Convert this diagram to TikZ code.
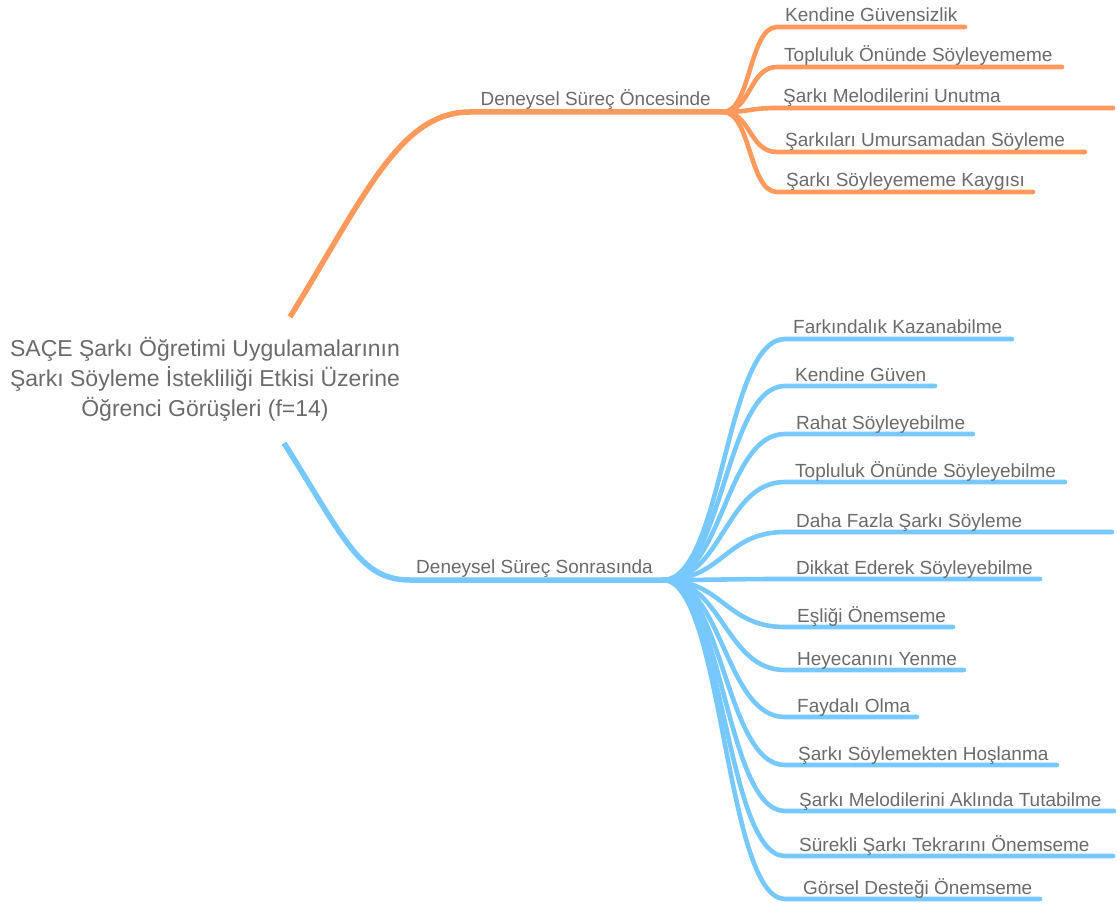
\documentclass[tikz,border=0pt]{standalone}
\usepackage{fontspec}
\setmainfont{Liberation Sans}
\definecolor{orangeB}{HTML}{FF9A5C}
\definecolor{blueB}{HTML}{76C8FF}
\definecolor{txt}{HTML}{6A6A6A}
\begin{document}
\begin{tikzpicture}[x=1pt,y=-1pt,
  lbl/.style={anchor=base west, inner sep=0pt, text=txt, font=\fontsize{19}{22}\selectfont},
  mainlbl/.style={anchor=base east, inner sep=0pt, text=txt, font=\fontsize{19}{22}\selectfont},
  rootlbl/.style={align=center, inner sep=0pt, text=txt, font=\fontsize{23}{30}\selectfont},
  obr/.style={draw=orangeB, line width=4.6pt, line cap=round},
  bbr/.style={draw=blueB, line width=4.6pt, line cap=round},
  omain/.style={draw=orangeB, line width=5.5pt},
  bmain/.style={draw=blueB, line width=5.5pt}]
\useasboundingbox (0,0) rectangle (1117,904);

% root
\node[rootlbl] (root) at (205,379) {SAÇE Şarkı Öğretimi Uygulamalarının\\Şarkı Söyleme İstekliliği Etkisi Üzerine\\Öğrenci Görüşleri (f=14)};

% orange main branch
\coordinate (rO) at (290,317);
\coordinate (om) at (470,112);
\coordinate (oj) at (723,112);
\draw[omain] (rO) .. controls (365,195) and (400,112) .. (om) -- (oj);
\node[mainlbl] (oL) at (711,106) {Deneysel Süreç Öncesinde};

\foreach \i/\y/\e/\t/\s in {
  1/27/965/785/Kendine Güvensizlik,
  2/67/1062/784/Topluluk Önünde Söyleyememe,
  3/108/1113/783/Şarkı Melodilerini Unutma,
  4/152/1085/785/Şarkıları Umursamadan Söyleme,
  5/192/1033/786/Şarkı Söyleyememe Kaygısı}{
  \coordinate (os\i) at (777,\y);
  \coordinate (oe\i) at (\e,\y);
  \draw[obr] (oj) .. controls +(28,0) and +(-28,0) .. (os\i) -- (oe\i);
  \node[lbl] (o\i) at (\t,\y-5) {\s};
}

% blue main branch
\coordinate (rB) at (284,443);
\coordinate (bm) at (410,580);
\coordinate (bj) at (663,580);
\draw[bmain] (rB) .. controls (345,540) and (360,580) .. (bm) -- (bj);
\node[mainlbl] (bL) at (653,573) {Deneysel Süreç Sonrasında};

\foreach \i/\y/\e/\t/\s in {
  1/339/1012/793/Farkındalık Kazanabilme,
  2/386/935/795/Kendine Güven,
  3/434/973/796/Rahat Söyleyebilme,
  4/482/1065/795/Topluluk Önünde Söyleyebilme,
  5/532/1112/796/Daha Fazla Şarkı Söyleme,
  6/579/1040/796/Dikkat Ederek Söyleyebilme,
  7/627/953/797/Eşliği Önemseme,
  8/670/964/797/Heyecanını Yenme,
  9/717/917/797/Faydalı Olma,
  10/765/1057/798/Şarkı Söylemekten Hoşlanma,
  11/811/1114/799/Şarkı Melodilerini Aklında Tutabilme,
  12/856/1113/799/Sürekli Şarkı Tekrarını Önemseme,
  13/899/1040/803/Görsel Desteği Önemseme}{
  \coordinate (bs\i) at (785,\y);
  \coordinate (be\i) at (\e,\y);
  \draw[bbr] (bj) .. controls +(60,0) and +(-60,0) .. (bs\i) -- (be\i);
  \node[lbl] (b\i) at (\t,\y-5) {\s};
}
\end{tikzpicture}
\end{document}
